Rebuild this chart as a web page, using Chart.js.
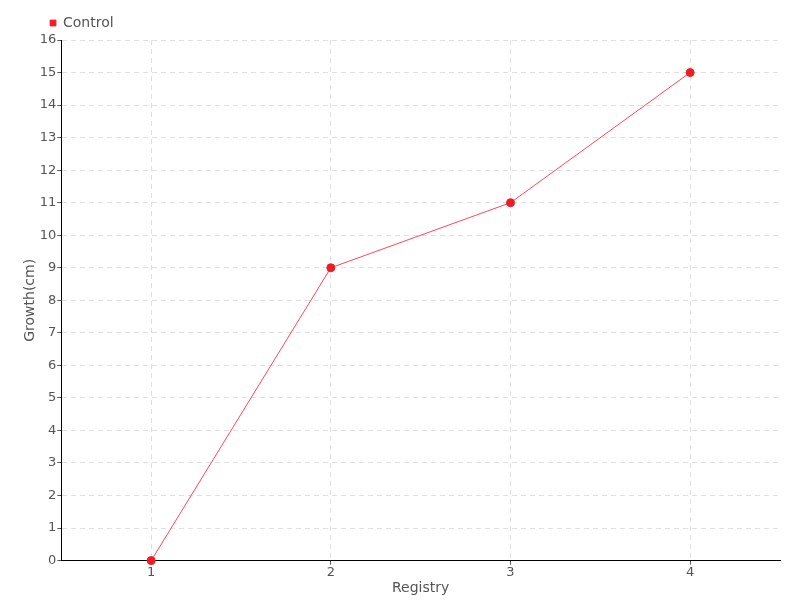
<!DOCTYPE html>
<html><head>
<meta charset="utf-8">
<title>Growth</title>
<style type="text/css">
body { margin:0; background:#ffffff; }
#box { width:800px; height:600px; }
</style>
<script src="https://cdn.jsdelivr.net/npm/chart.js"></script>
<script>
labels=['1','2','3','4'];
control=[0,9,11,15];
seriesName='Control';
xTitle='Registry';
yTitle='Growth(cm)';

// nudge the legend to the right so it sits over the y axis like the original
legendShift={id:'legendShift',afterLayout(c){ if(c.legend){ c.legend.left+=18; } }};

function initChart() {
  Chart.defaults.font.family="'DejaVu Sans',sans-serif";
  Chart.defaults.font.size=14;
  Chart.defaults.color='#555555';
  data={labels:labels,datasets:[{
    label:seriesName,data:control,clip:false,
    borderColor:'rgba(255,40,60,0.85)',backgroundColor:'#ee1c25',
    pointBackgroundColor:'#ee1c25',pointBorderColor:'#ee1c25',
    borderWidth:1,pointRadius:4,pointHoverRadius:5,tension:0}]};
  config={type:'line',data,options:{
    responsive:false,animation:false,
    layout:{padding:{left:22,right:20,top:6,bottom:3}},
    scales:{
      x:{offset:true,
        grid:{color:'#e0e0e0',tickColor:'#555555',tickLength:4,offset:false},
        border:{color:'#000000',width:1,dash:[5,4]},
        ticks:{padding:0,font:{size:13}},
        title:{display:true,text:xTitle,padding:{top:0,bottom:0}}},
      y:{min:0,max:16,
        grid:{color:'#e0e0e0',tickColor:'#555555',tickLength:4},
        border:{color:'#000000',width:1,dash:[5,4]},
        ticks:{stepSize:1,padding:1,font:{size:13}},
        title:{display:true,text:yTitle,padding:{top:0,bottom:0}}}},
    plugins:{
      legend:{align:'start',labels:{boxWidth:6,boxHeight:6,padding:10,font:{size:14}}},
      tooltip:{enabled:false}}},
    plugins:[legendShift]};
  new Chart(document.getElementById('myChart'),config); }
</script></head>
<body onload="initChart();">
<div id="box"><canvas id="myChart" width="800" height="600"></canvas></div>
</body></html>
